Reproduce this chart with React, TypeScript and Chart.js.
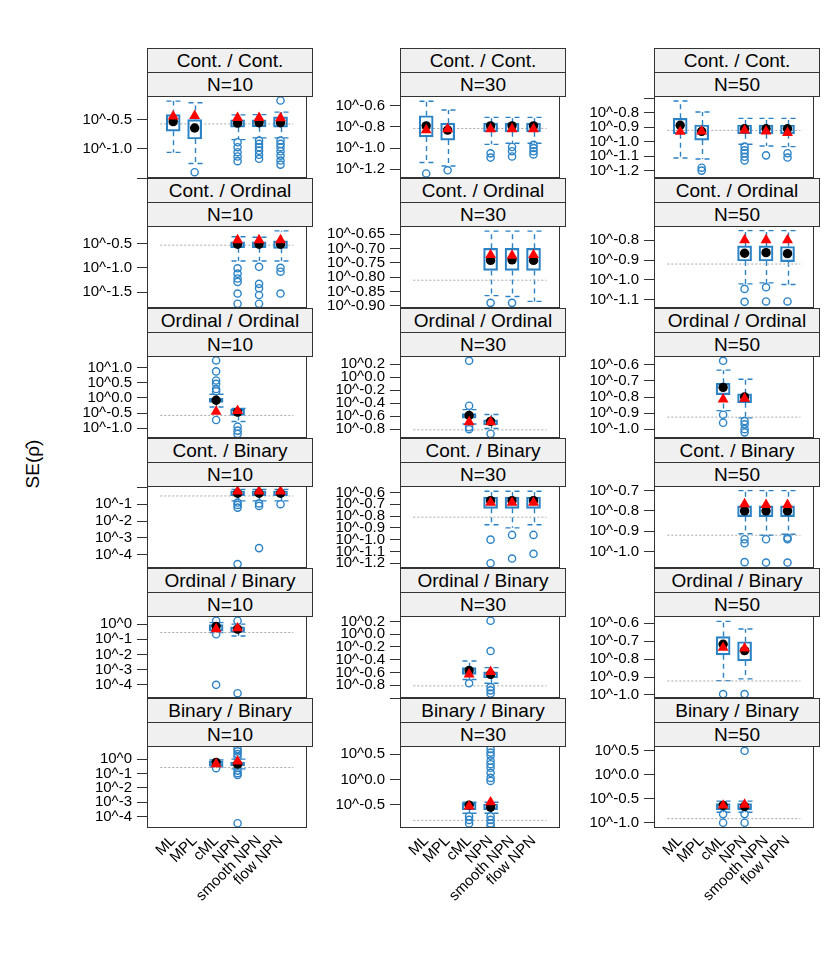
import React, { useEffect, useRef } from "react";
import { Chart, registerables } from "chart.js";
Chart.register(...registerables);

const N = null;
const rowLabels = ["Cont. / Cont.", "Cont. / Ordinal", "Ordinal / Ordinal", "Cont. / Binary", "Ordinal / Binary", "Binary / Binary"];
const sampleSizes = ["N=10", "N=30", "N=50"];
const methods = ["ML", "MPL", "cML", "NPN", "smooth NPN", "flow NPN"];

// y ranges (log10 SE) per panel, row-major
const yMin = [-1.5, -1.283, -1.251, -1.827, -0.908, -1.141, -1.323, -0.935, -1.055, -4.78, -1.24, -1.082, -4.867, -1.0, -1.017, -4.8, -0.96, -1.11];
const yMax = [-0.09, -0.508, -0.686, -0.14, -0.622, -0.729, 1.377, 0.324, -0.545, 0.08, -0.546, -0.677, 0.533, 0.284, -0.559, 0.915, 0.66, 0.6];
const yTickValues = [
  [-0.5, -1.0], [-0.6, -0.8, -1.0, -1.2], [-0.8, -0.9, -1.0, -1.1, -1.2],
  [-0.5, -1.0, -1.5], [-0.65, -0.7, -0.75, -0.8, -0.85, -0.9], [-0.8, -0.9, -1.0, -1.1],
  [1.0, 0.5, 0.0, -0.5, -1.0], [0.2, 0.0, -0.2, -0.4, -0.6, -0.8], [-0.6, -0.7, -0.8, -0.9, -1.0],
  [-1, -2, -3, -4], [-0.6, -0.7, -0.8, -0.9, -1.0, -1.1, -1.2], [-0.7, -0.8, -0.9, -1.0],
  [0, -1, -2, -3, -4], [0.2, 0.0, -0.2, -0.4, -0.6, -0.8], [-0.6, -0.7, -0.8, -0.9, -1.0],
  [0, -1, -2, -3, -4], [0.5, 0.0, -0.5], [0.5, 0.0, -0.5, -1.0],
];
const yBareTicks = [[-1.5], [], [-0.7], [], [], [], [], [], [], [0], [], [], [], [-1.0], [], [], [], []];
const yTickDecimals = [1, 1, 1, 1, 2, 1, 1, 1, 1, 0, 1, 1, 0, 1, 1, 0, 1, 1];
const refLine = [-0.57, -0.815, -0.923, -0.535, -0.811, -0.92, -0.58, -0.81, -0.925, -0.51, -0.81, -0.92, -0.555, -0.81, -0.922, -0.585, -0.81, -0.915];

const whiskerLo = [
  [-1.06, -1.25, N, -0.84, -0.81, -0.81],
  [-1.136, -1.17, N, -0.965, -0.955, -0.955],
  [-1.113, -1.12, N, -1.018, -1.03, -1.035],
  [N, N, N, -0.86, -0.86, -0.86],
  [N, N, N, -0.865, -0.868, -0.885],
  [N, N, N, -1.02, -1.015, -1.023],
  [N, N, -0.3, -0.78, N, N],
  [N, N, -0.72, -0.79, N, N],
  [N, N, -0.885, -0.93, N, N],
  [N, N, N, -0.8, -0.8, -0.8],
  [N, N, N, -0.874, -0.9, -0.874],
  [N, N, N, -0.913, -0.92, -0.915],
  [N, N, -0.55, -0.78, N, N],
  [N, N, -0.71, -0.77, N, N],
  [N, N, -0.92, -0.91, N, N],
  [N, N, -0.55, -0.68, N, N],
  [N, N, -0.67, -0.67, N, N],
  [N, N, -0.78, -0.78, N, N],
];
const boxLo = [
  [-0.695, -0.83, N, -0.626, -0.62, -0.626],
  [-0.895, -0.925, N, -0.845, -0.845, -0.845],
  [-0.946, -0.99, N, -0.946, -0.946, -0.946],
  [N, N, N, -0.585, -0.585, -0.6],
  [N, N, N, -0.777, -0.777, -0.777],
  [N, N, N, -0.905, -0.905, -0.908],
  [N, N, -0.15, -0.58, N, N],
  [N, N, -0.63, -0.73, N, N],
  [N, N, -0.785, -0.835, N, N],
  [N, N, N, -0.5, -0.5, -0.5],
  [N, N, N, -0.735, -0.735, -0.735],
  [N, N, N, -0.828, -0.828, -0.828],
  [N, N, -0.44, -0.555, N, N],
  [N, N, -0.63, -0.685, N, N],
  [N, N, -0.776, -0.81, N, N],
  [N, N, -0.47, -0.47, N, N],
  [N, N, -0.6, -0.6, N, N],
  [N, N, -0.73, -0.73, N, N],
];
const medians = [
  [-0.53, -0.64, N, -0.557, -0.55, -0.55],
  [-0.79, -0.83, N, -0.79, -0.79, -0.79],
  [-0.888, -0.93, N, -0.912, -0.912, -0.912],
  [N, N, N, -0.515, -0.515, -0.515],
  [N, N, N, -0.742, -0.74, -0.742],
  [N, N, N, -0.866, -0.863, -0.868],
  [N, N, -0.08, -0.47, N, N],
  [N, N, -0.59, -0.68, N, N],
  [N, N, -0.74, -0.8, N, N],
  [N, N, N, -0.35, -0.35, -0.35],
  [N, N, N, -0.67, -0.67, -0.67],
  [N, N, N, -0.8, -0.8, -0.8],
  [N, N, -0.155, -0.33, N, N],
  [N, N, -0.57, -0.63, N, N],
  [N, N, -0.717, -0.752, N, N],
  [N, N, -0.23, -0.35, N, N],
  [N, N, -0.51, -0.55, N, N],
  [N, N, -0.64, -0.66, N, N],
];
const boxHi = [
  [-0.41, -0.495, N, -0.5, -0.5, -0.45],
  [-0.695, -0.765, N, -0.765, -0.765, -0.765],
  [-0.84, -0.886, N, -0.886, -0.886, -0.886],
  [N, N, N, -0.466, -0.466, -0.445],
  [N, N, N, -0.7, -0.7, -0.7],
  [N, N, N, -0.829, -0.829, -0.832],
  [N, N, 0.0, -0.37, N, N],
  [N, N, -0.56, -0.655, N, N],
  [N, N, -0.715, -0.78, N, N],
  [N, N, N, -0.2, -0.2, -0.2],
  [N, N, N, -0.64, -0.64, -0.64],
  [N, N, N, -0.775, -0.775, -0.775],
  [N, N, 0.0, -0.18, N, N],
  [N, N, -0.525, -0.59, N, N],
  [N, N, -0.674, -0.703, N, N],
  [N, N, -0.12, -0.23, N, N],
  [N, N, -0.47, -0.49, N, N],
  [N, N, -0.6, -0.6, N, N],
];
const whiskerHi = [
  [-0.178, -0.207, N, -0.414, -0.41, -0.367],
  [-0.558, -0.64, N, -0.71, -0.71, -0.71],
  [-0.72, -0.796, N, -0.84, -0.84, -0.84],
  [N, N, N, -0.36, -0.37, -0.24],
  [N, N, N, -0.64, -0.64, -0.64],
  [N, N, N, -0.752, -0.752, -0.752],
  [N, N, 0.12, -0.35, N, N],
  [N, N, -0.5, -0.575, N, N],
  [N, N, -0.633, -0.69, N, N],
  [N, N, N, -0.12, -0.12, -0.12],
  [N, N, N, -0.59, -0.59, -0.59],
  [N, N, N, -0.7, -0.7, -0.7],
  [N, N, 0.1, 0.0, N, N],
  [N, N, -0.42, -0.525, N, N],
  [N, N, -0.589, -0.632, N, N],
  [N, N, -0.05, 0.0, N, N],
  [N, N, -0.45, -0.45, N, N],
  [N, N, -0.55, -0.55, N, N],
];
const triangles = [
  [-0.44, -0.43, N, -0.466, -0.466, -0.47],
  [-0.83, -0.82, N, -0.82, -0.82, -0.82],
  [-0.932, -0.93, N, -0.923, -0.93, -0.94],
  [N, N, N, -0.43, -0.43, -0.43],
  [N, N, N, -0.723, -0.725, -0.723],
  [N, N, N, -0.8, -0.8, -0.8],
  [N, N, -0.45, -0.43, N, N],
  [N, N, -0.69, -0.69, N, N],
  [N, N, -0.815, -0.81, N, N],
  [N, N, N, -0.24, -0.24, -0.24],
  [N, N, N, -0.686, -0.686, -0.686],
  [N, N, N, -0.766, -0.77, -0.77],
  [N, N, -0.33, -0.27, N, N],
  [N, N, -0.63, -0.59, N, N],
  [N, N, -0.736, -0.74, N, N],
  [N, N, -0.35, -0.16, N, N],
  [N, N, -0.53, -0.45, N, N],
  [N, N, -0.64, -0.62, N, N],
];
const outliers = [
  [[], [-1.4], [], [-0.885, -0.97, -1.056, -1.13, -1.21], [-0.857, -0.914, -0.97, -1.03, -1.1, -1.17], [-0.167, -0.857, -0.914, -0.97, -1.04, -1.115, -1.2, -1.27]],
  [[-1.24], [-1.21], [], [-1.05, -1.09], [-0.99, -1.03, -1.08], [-0.97, -1.0, -1.03, -1.06]],
  [[], [-1.18, -1.2], [], [-1.035, -1.06, -1.08, -1.105, -1.13], [-1.095], [-1.08, -1.11]],
  [[], [], [], [-1.01, -1.12, -1.22, -1.29, -1.53, -1.74], [-0.98, -1.33, -1.42, -1.56, -1.74], [-1.0, -1.08, -1.53]],
  [[], [], [], [-0.89], [-0.89], []],
  [[], [], [], [-1.045, -1.11], [-1.037, -1.108], [-1.108]],
  [[], [], [1.23, 0.87, 0.57, 0.46, 0.29, 0.22, -0.73], [-0.95, -1.08, -1.19], [], []],
  [[], [], [0.25, -0.44, -0.77, -0.8], [-0.87], [], []],
  [[], [], [-0.575, -0.91, -0.96], [-0.95, -0.97, -1.0, -1.02], [], []],
  [[], [], [], [-0.9, -1.04, -1.2, -4.55], [-0.95, -1.1, -3.6], [-1.0]],
  [[], [], [], [-1.0, -1.2], [-0.96, -1.16], [-0.96, -1.12]],
  [[], [], [], [-0.94, -0.96, -1.053], [-0.94, -1.055], [-0.933, -0.94, -1.055]],
  [[], [], [0.22, -0.67, -4.0], [0.22, -4.55], [], []],
  [[], [], [-0.77], [0.21, -0.265, -0.83, -0.88, -0.93], [], []],
  [[], [], [-0.995], [-0.995], [], []],
  [[], [], [-0.63], [0.7, 0.54, 0.35, 0.16, -0.8, -0.98, -1.1, -4.47], [], []],
  [[], [], [-0.73, -0.8, -0.87], [0.6, 0.53, 0.47, 0.37, 0.3, 0.23, 0.13, 0.03, -0.03, -0.73, -0.8, -0.87, -0.93], [], []],
  [[], [], [-0.82, -1.0], [0.5, -0.82, -1.0], [], []],
];

// layout
const COL_LEFT = [147, 400, 654];
const PLOT_W = 165;
const ROW_TOP = [48, 178, 308, 438, 568, 698];
const STRIP_H = 24;
const PLOT_H = 82;
const AXIS_W = 80;
const XAXIS_H = 110;
const PAD_V = 12;
const BLUE = "#2b83c6";
const FONT = "'Liberation Sans', Arial, Helvetica, sans-serif";

function Panel({ p }: { p: number }) {
  const ref = useRef<HTMLCanvasElement>(null);
  const r = Math.floor(p / 3);
  const c = p % 3;
  const bottom = r === 5;
  const width = AXIS_W + PLOT_W + 1;
  const height = PAD_V + PLOT_H + (bottom ? XAXIS_H : PAD_V);
  const plotTop = ROW_TOP[r] + 2 * STRIP_H;

  useEffect(() => {
    const idx = methods.map((_, i) => i).filter((i) => boxLo[p][i] !== null);
    const outPts: { x: number; y: number }[] = [];
    idx.forEach((i) => outliers[p][i].forEach((v) => outPts.push({ x: i + 1, y: v })));
    const whiskers = {
      id: "whiskers",
      beforeDatasetsDraw(chart: any) {
        const ctx = chart.ctx;
        const xs = chart.scales.x;
        const ys = chart.scales.y;
        ctx.save();
        ctx.strokeStyle = BLUE;
        ctx.lineWidth = 1.4;
        ctx.setLineDash([5, 4]);
        idx.forEach((i) => {
          const x = Math.round(xs.getPixelForValue(i + 1)) + 0.5;
          const segs: [number, number][] = [
            [boxHi[p][i] as number, whiskerHi[p][i] as number],
            [boxLo[p][i] as number, whiskerLo[p][i] as number],
          ];
          segs.forEach(([a, b]) => {
            const ya = ys.getPixelForValue(a);
            const yb = ys.getPixelForValue(b);
            ctx.beginPath();
            ctx.moveTo(x, ya);
            ctx.lineTo(x, yb);
            ctx.stroke();
            ctx.beginPath();
            ctx.moveTo(x - 7, yb);
            ctx.lineTo(x + 7, yb);
            ctx.stroke();
          });
        });
        ctx.restore();
      },
    };
    const frame = {
      id: "frame",
      afterDraw(chart: any) {
        const a = chart.chartArea;
        const ctx = chart.ctx;
        ctx.save();
        ctx.strokeStyle = "#333";
        ctx.lineWidth = 1;
        ctx.strokeRect(Math.round(a.left) + 0.5, Math.round(a.top) + 0.5, Math.round(a.right - a.left) - 1, Math.round(a.bottom - a.top) - 1);
        ctx.restore();
      },
    };
    const chart = new Chart(ref.current as HTMLCanvasElement, {
      type: "bar",
      data: {
        datasets: [
          {
            type: "line",
            data: [{ x: 0.4, y: refLine[p] }, { x: 6.6, y: refLine[p] }],
            borderColor: "#a8a8a8",
            borderWidth: 1,
            borderDash: [2, 2],
            pointRadius: 0,
            order: 10,
          } as any,
          {
            type: "bar",
            data: idx.map((i) => ({ x: i + 1, y: [boxLo[p][i], boxHi[p][i]] })),
            backgroundColor: "rgba(255,255,255,0)",
            borderColor: BLUE,
            borderWidth: 1.5,
            borderSkipped: false,
            barThickness: 14,
            order: 5,
          } as any,
          {
            type: "scatter",
            data: outPts,
            pointStyle: "circle",
            pointRadius: 3.6,
            pointBorderColor: BLUE,
            pointBackgroundColor: "rgba(255,255,255,0)",
            pointBorderWidth: 1.4,
            order: 3,
          } as any,
          {
            type: "scatter",
            data: idx.map((i) => ({ x: i + 1, y: medians[p][i] })),
            pointStyle: "circle",
            pointRadius: 4.7,
            pointBorderColor: "#000",
            pointBackgroundColor: "#000",
            pointBorderWidth: 0,
            order: 2,
          } as any,
          {
            type: "scatter",
            data: idx.map((i) => ({ x: i + 1, y: triangles[p][i] })),
            pointStyle: "triangle",
            pointRadius: 6.3,
            pointBorderColor: "#ff0000",
            pointBackgroundColor: "#ff0000",
            pointBorderWidth: 0,
            order: 1,
          } as any,
        ],
      },
      options: {
        animation: false,
        responsive: false,
        layout: { padding: { left: 0, right: 1, top: PAD_V, bottom: bottom ? 0 : PAD_V } },
        plugins: { legend: { display: false }, tooltip: { enabled: false } },
        scales: {
          x: {
            type: "linear",
            min: 0.4,
            max: 6.6,
            display: bottom,
            afterBuildTicks: (s: any) => {
              s.ticks = methods.map((_, i) => ({ value: i + 1 }));
            },
            afterFit: (s: any) => {
              s.height = bottom ? XAXIS_H : 0;
              s.paddingLeft = 0;
              s.paddingRight = 0;
            },
            ticks: {
              autoSkip: false,
              maxRotation: 45,
              minRotation: 45,
              padding: 4,
              color: "#000",
              font: { family: FONT, size: 15 },
              callback: (v: any) => methods[Math.round(Number(v)) - 1],
            },
            grid: { drawOnChartArea: false, drawTicks: false },
            border: { display: false },
          },
          y: {
            type: "linear",
            min: yMin[p],
            max: yMax[p],
            afterBuildTicks: (s: any) => {
              s.ticks = [...yTickValues[p], ...yBareTicks[p]]
                .filter((v) => v >= yMin[p] - 1e-9 && v <= yMax[p] + 1e-9)
                .map((v) => ({ value: v }));
            },
            afterFit: (s: any) => {
              s.width = AXIS_W;
              s.paddingTop = 0;
              s.paddingBottom = 0;
            },
            ticks: {
              autoSkip: false,
              color: "#000",
              padding: 5,
              font: { family: FONT, size: 15 },
              callback: (v: any) =>
                yBareTicks[p].some((b) => Math.abs(b - Number(v)) < 1e-9) ? "" : "10^" + Number(v).toFixed(yTickDecimals[p]),
            },
            grid: { drawOnChartArea: false, drawTicks: true, tickLength: 10, color: "#333", lineWidth: 1 },
            border: { display: false },
          },
        },
      } as any,
      plugins: [whiskers, frame],
    });
    return () => chart.destroy();
  }, []);

  return (
    <canvas
      ref={ref}
      width={width}
      height={height}
      style={{ position: "absolute", left: COL_LEFT[c] - AXIS_W, top: plotTop - PAD_V, width, height }}
    />
  );
}

function Strip({ left, top, text }: { left: number; top: number; text: string }) {
  return (
    <div
      style={{
        position: "absolute",
        left,
        top,
        width: PLOT_W + 1,
        height: STRIP_H + 1,
        boxSizing: "border-box",
        border: "1px solid #333",
        background: "#f0f0f0",
        fontFamily: FONT,
        fontSize: 19,
        lineHeight: `${STRIP_H - 1}px`,
        textAlign: "center",
        color: "#000",
        whiteSpace: "nowrap",
      }}
    >
      {text}
    </div>
  );
}

export default function App() {
  const panels = Array.from({ length: 18 }, (_, p) => p);
  return (
    <div style={{ position: "absolute", left: 0, top: 0, width: 840, height: 960, background: "#fff", overflow: "hidden" }}>
      {panels.map((p) => {
        const r = Math.floor(p / 3);
        const c = p % 3;
        return (
          <React.Fragment key={p}>
            <Strip left={COL_LEFT[c]} top={ROW_TOP[r]} text={rowLabels[r]} />
            <Strip left={COL_LEFT[c]} top={ROW_TOP[r] + STRIP_H} text={sampleSizes[c]} />
          </React.Fragment>
        );
      })}
      {panels.map((p) => (
        <Panel key={"c" + p} p={p} />
      ))}
      <div
        style={{
          position: "absolute",
          left: 33,
          top: 464,
          transform: "translate(-50%, -50%) rotate(-90deg)",
          fontFamily: FONT,
          fontSize: 19,
          whiteSpace: "nowrap",
          color: "#000",
        }}
      >
        {"SE(\u03C1\u0302)"}
      </div>
    </div>
  );
}
